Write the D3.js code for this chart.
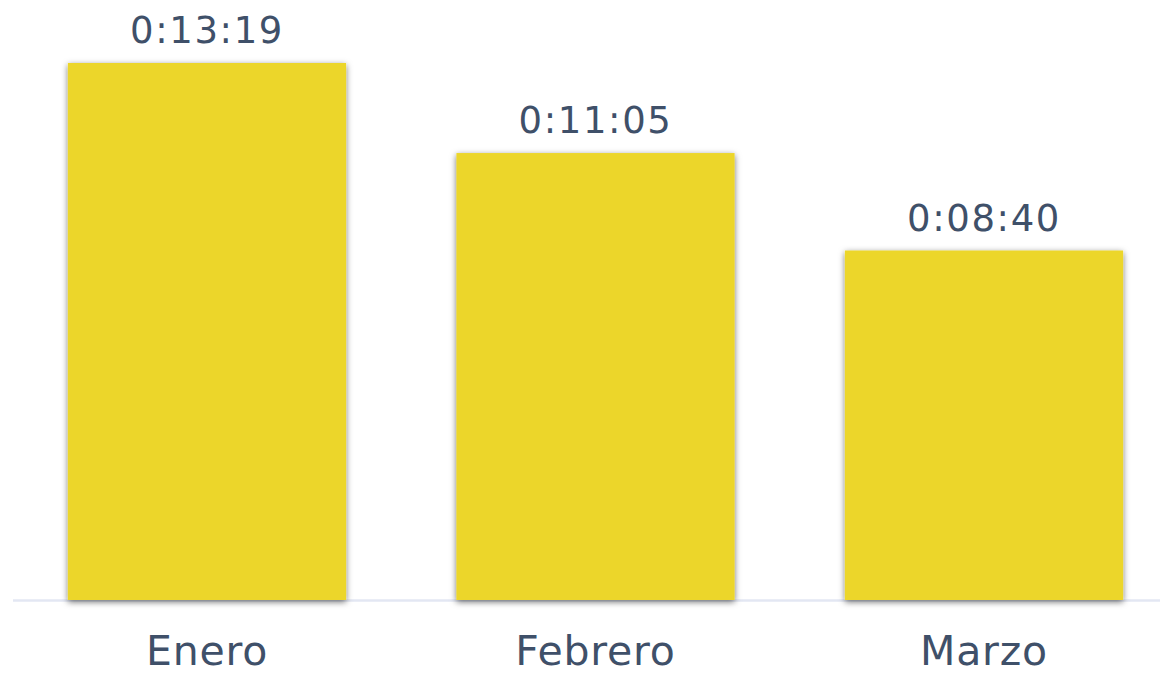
<!DOCTYPE html>
<html>
<head>
<meta charset="utf-8">
<script src="https://cdn.jsdelivr.net/npm/d3@7"></script>
<style>
  html, body { margin: 0; padding: 0; background: #ffffff; }
  svg { display: block; }
  text { font-family: "DejaVu Sans", Verdana, sans-serif; fill: #3f5069; }
</style>
</head>
<body>
<svg id="chart" width="1160" height="675"></svg>
<script>
const categories = ["Enero", "Febrero", "Marzo"];
const valueSeconds = [799, 665, 520];
const valueLabels = ["0:13:19", "0:11:05", "0:08:40"];

const width = 1160, height = 675;
const svg = d3.select("#chart");

const defs = svg.append("defs");
const f = defs.append("filter").attr("id", "shadow")
  .attr("x", "-5%").attr("y", "-5%").attr("width", "110%").attr("height", "110%");
f.append("feDropShadow").attr("dx", 0).attr("dy", 2).attr("stdDeviation", 3)
  .attr("flood-color", "#000").attr("flood-opacity", 0.55);

const x = d3.scaleBand().domain(categories).range([12.75, 1178.25])
  .paddingInner(0.284).paddingOuter(0.142);
const y = d3.scaleLinear().domain([0, 799]).range([600, 63]);

const data = categories.map((c, i) => ({ c, v: valueSeconds[i], label: valueLabels[i] }));

// baseline
svg.append("line")
  .attr("x1", 13).attr("x2", width).attr("y1", 600.5).attr("y2", 600.5)
  .attr("stroke", "#e3e7f3").attr("stroke-width", 2.5);

svg.append("g").selectAll("rect").data(data).join("rect")
  .attr("x", d => x(d.c)).attr("width", x.bandwidth())
  .attr("y", d => y(d.v)).attr("height", d => y(0) - y(d.v))
  .attr("fill", "#ecd62a")
  .attr("filter", "url(#shadow)");

svg.append("g").selectAll("text").data(data).join("text")
  .attr("x", d => x(d.c) + x.bandwidth() / 2)
  .attr("y", d => y(d.v) - 20)
  .attr("text-anchor", "middle")
  .style("font-size", "37px")
  .style("letter-spacing", "1.6px")
  .text(d => d.label);

const xAxis = d3.axisBottom(x).tickSize(0).tickPadding(0);
const gx = svg.append("g").attr("transform", "translate(0,600)").call(xAxis);
gx.select(".domain").remove();
gx.selectAll("text")
  .attr("y", 65).attr("dy", 0)
  .style("font-size", "41px")
  .style("letter-spacing", "0.8px")
  .style("font-family", "'DejaVu Sans', Verdana, sans-serif")
  .attr("fill", "#3f5069");
</script>
</body>
</html>
